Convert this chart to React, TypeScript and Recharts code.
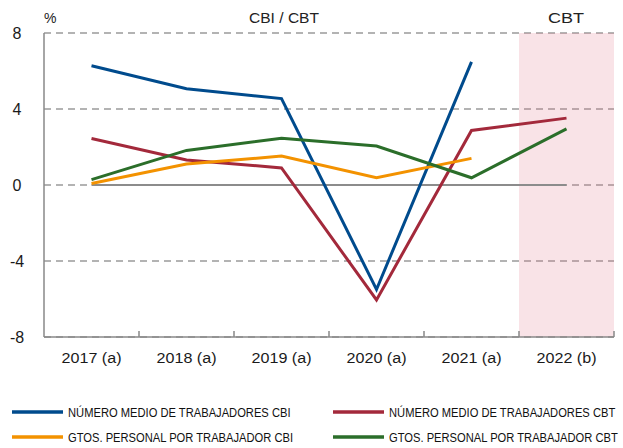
import React from 'react';
import { LineChart, Line, XAxis, YAxis, CartesianGrid, ReferenceArea, ReferenceLine } from 'recharts';

const categories = ['2017 (a)', '2018 (a)', '2019 (a)', '2020 (a)', '2021 (a)', '2022 (b)'];
const numeroCBI = [6.28, 5.07, 4.55, -5.5, 6.48, null];
const numeroCBT = [2.45, 1.32, 0.9, -6.05, 2.87, 3.52];
const gtosCBI = [0.08, 1.1, 1.52, 0.38, 1.4, null];
const gtosCBT = [0.28, 1.82, 2.46, 2.05, 0.38, 2.95];
const yTicks = [8, 4, 0, -4, -8];

const seriesNames = [
  'NÚMERO MEDIO DE TRABAJADORES CBI',
  'NÚMERO MEDIO DE TRABAJADORES CBT',
  'GTOS. PERSONAL POR TRABAJADOR CBI',
  'GTOS. PERSONAL POR TRABAJADOR CBT',
];
const colors = ['#004B8D', '#A3293B', '#F39200', '#2B6E2A'];

const data = categories.map((c, i) => ({
  cat: c,
  a: numeroCBI[i],
  b: numeroCBT[i],
  c: gtosCBI[i],
  d: gtosCBT[i],
}));

const FONT = "'Liberation Sans', Arial, sans-serif";

const XTick = (props: any) => {
  const { x, index } = props;
  const axisY = 337;
  const half = 47.5;
  return (
    <g>
      <text x={x} y={axisY + 26} textAnchor="middle" fontFamily={FONT} fontSize={15.5} fill="#1a1a1a" textLength={60} lengthAdjust="spacingAndGlyphs">
        {props.payload.value}
      </text>
      {index > 0 && <line x1={x - half} x2={x - half} y1={axisY} y2={axisY - 6} stroke="#888" strokeWidth={1.5} />}
      {index === categories.length - 1 && <line x1={x + half} x2={x + half} y1={axisY} y2={axisY - 6} stroke="#888" strokeWidth={1.5} />}
    </g>
  );
};

const YTick = (props: any) => {
  const { y, payload } = props;
  return (
    <text x={17} y={y + 6} textAnchor="middle" fontFamily={FONT} fontSize={16} fill="#1a1a1a">
      {payload.value}
    </text>
  );
};

export default function App() {
  const legendItems = [
    { name: seriesNames[0], color: colors[0], x: 12, y: 412 },
    { name: seriesNames[1], color: colors[1], x: 333, y: 412 },
    { name: seriesNames[2], color: colors[2], x: 12, y: 437 },
    { name: seriesNames[3], color: colors[3], x: 333, y: 437 },
  ];
  return (
    <div style={{ position: 'absolute', left: 0, top: 0, width: 623, height: 448, background: '#fff' }}>
      <LineChart width={623} height={390} data={data} margin={{ top: 33, right: 9, left: 0, bottom: 13 }}>
        <ReferenceArea x1="2022 (b)" x2="2022 (b)" y1={-8} y2={8} fill="#E07585" fillOpacity={0.2} stroke="none" ifOverflow="visible" />
        <CartesianGrid vertical={false} stroke="#9a9a9a" strokeDasharray="7 5" strokeWidth={1.5} />
        <XAxis dataKey="cat" scale="band" tick={<XTick />} tickLine={false} axisLine={{ stroke: '#888', strokeWidth: 1.5 }} height={40} interval={0} />
        <YAxis domain={[-8, 8]} ticks={yTicks} width={44} tick={<YTick />} tickLine={false} axisLine={{ stroke: '#888', strokeWidth: 1.5 }} />
        <ReferenceLine segment={[{ x: '2017 (a)', y: 0 }, { x: '2022 (b)', y: 0 }]} stroke="#8c8c8c" strokeWidth={2} />
        <Line dataKey="a" stroke={colors[0]} strokeWidth={3} dot={false} isAnimationActive={false} connectNulls={false} />
        <Line dataKey="b" stroke={colors[1]} strokeWidth={3} dot={false} isAnimationActive={false} />
        <Line dataKey="c" stroke={colors[2]} strokeWidth={3} dot={false} isAnimationActive={false} />
        <Line dataKey="d" stroke={colors[3]} strokeWidth={3} dot={false} isAnimationActive={false} />
      </LineChart>
      <svg width={623} height={448} style={{ position: 'absolute', left: 0, top: 0, pointerEvents: 'none' }}>
        <text x={44} y={23} fontFamily={FONT} fontSize={14} fill="#222">%</text>
        <text x={284} y={23} textAnchor="middle" fontFamily={FONT} fontSize={14} fill="#222" textLength={70} lengthAdjust="spacingAndGlyphs">CBI / CBT</text>
        <text x={566} y={23} textAnchor="middle" fontFamily={FONT} fontSize={14} fill="#222" textLength={36} lengthAdjust="spacingAndGlyphs">CBT</text>
        {legendItems.map((it) => (
          <g key={it.name}>
            <line x1={it.x} x2={it.x + 51} y1={it.y} y2={it.y} stroke={it.color} strokeWidth={3.5} />
            <text transform={`translate(${it.x + 56},${it.y + 5}) scale(0.86,1)`} fontFamily={FONT} fontSize={13} fill="#111">
              {it.name}
            </text>
          </g>
        ))}
      </svg>
    </div>
  );
}
